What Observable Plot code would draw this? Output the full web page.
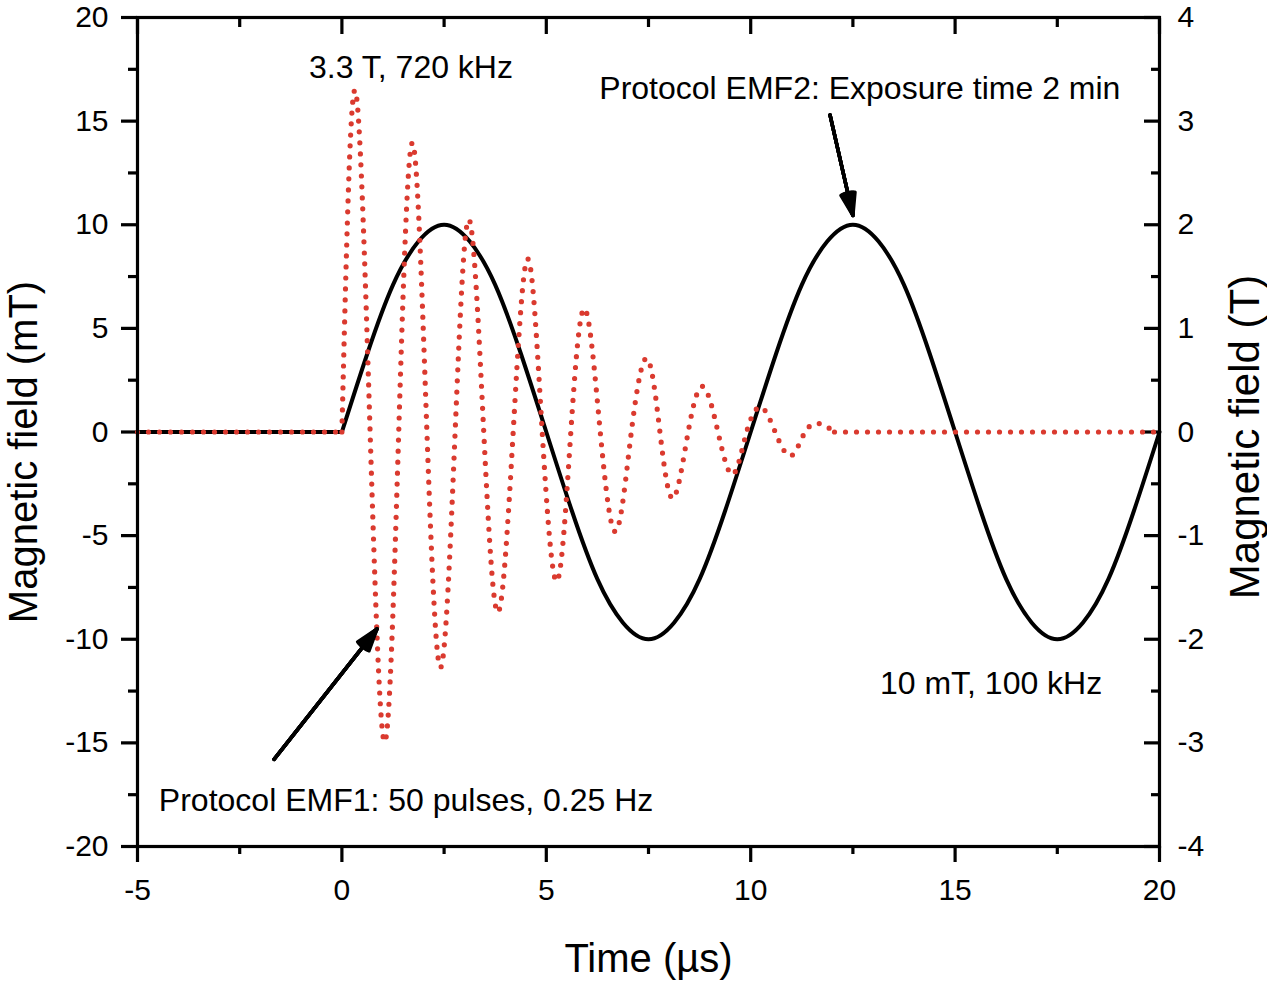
<!DOCTYPE html>
<html>
<head>
<meta charset="utf-8">
<script src="https://cdn.jsdelivr.net/npm/d3@7"></script>
<script src="https://cdn.jsdelivr.net/npm/@observablehq/plot@0.6"></script>
<style>
  html, body { margin: 0; padding: 0; background: #fff; }
</style>
</head>
<body>
<div id="chart"></div>
<script>
// ---- ticks ----
const xTicks = [-5, 0, 5, 10, 15, 20];
const xMinorTicks = [-2.5, 2.5, 7.5, 12.5, 17.5];
const yTicks = [-20, -15, -10, -5, 0, 5, 10, 15, 20];
const yMinorTicks = [-17.5, -12.5, -7.5, -2.5, 2.5, 7.5, 12.5, 17.5];
const rightTickLabels = ["-4", "-3", "-2", "-1", "0", "1", "2", "3", "4"];

// ---- black curve: 10 mT, 100 kHz (left axis, mT) ----
const flatTime = [-5, 0];
const flatField = [0, 0];
const sineTime = [0, 0.625, 1.25, 1.875, 2.5, 3.125, 3.75, 4.375, 5, 5.625, 6.25, 6.875, 7.5, 8.125, 8.75, 9.375, 10,
  10.625, 11.25, 11.875, 12.5, 13.125, 13.75, 14.375, 15, 15.625, 16.25, 16.875, 17.5, 18.125, 18.75, 19.375, 20];
const sineField = [0, 3.8, 7.1, 9.2, 10, 9.2, 7.1, 3.8, 0, -3.8, -7.1, -9.2, -10, -9.2, -7.1, -3.8, 0,
  3.8, 7.1, 9.2, 10, 9.2, 7.1, 3.8, 0, -3.8, -7.1, -9.2, -10, -9.2, -7.1, -3.8, 0];

// ---- red dotted curve: 3.3 T, 720 kHz (right axis, T) ----
const preTime = [-5, 0];
const preTesla = [0, 0];
const pulseTime = [0, 0.32, 0.69, 1.05, 1.39, 1.73, 2.08, 2.42, 2.77, 3.11, 3.47, 3.82, 4.19, 4.55, 4.9, 5.26, 5.6, 5.94,
  6.32, 6.7, 7.08, 7.46, 7.78, 8.1, 8.47, 8.83, 9.2, 9.56, 9.9, 10.25, 10.6, 10.98, 11.33, 11.69, 12.05];
const pulseTesla = [0, 3.3, 0, -2.99, 0, 2.79, 0, -2.27, 0, 2.05, 0, -1.74, 0, 1.67, 0, -1.44, 0, 1.19,
  0, -0.96, 0, 0.71, 0, -0.64, 0, 0.44, 0, -0.41, 0, 0.24, 0, -0.23, 0, 0.08, 0];
const postTime = [12.05, 20];
const postTesla = [0, 0];

// ---- annotations ----
const noteText = ["3.3 T, 720 kHz", "Protocol EMF2: Exposure time 2 min", "10 mT, 100 kHz", "Protocol EMF1: 50 pulses, 0.25 Hz"];
const noteTime = [1.69, 12.67, 15.88, 1.57];
const noteField = [17.59, 16.57, -12.13, -17.78];
const arrowFrom = [[11.94, 15.3], [-1.66, -15.8]];
const arrowTo = [[12.5, 10.45], [0.86, -9.5]];

// ---- build tables ----
const blackRows = [
  ...flatTime.map((t, i) => ({t, v: flatField[i], seg: "a"})),
  ...sineTime.map((t, i) => ({t, v: sineField[i], seg: "b"}))
];
const redRows = [
  ...preTime.map((t, i) => ({t, T: preTesla[i], seg: "a"})),
  ...pulseTime.map((t, i) => ({t, T: pulseTesla[i], seg: "b"})),
  ...postTime.map((t, i) => ({t, T: postTesla[i], seg: "c"}))
];
const notes = noteText.map((text, i) => ({text, t: noteTime[i], v: noteField[i]}));
const arrows = arrowFrom.map((a, i) => ({x1: a[0], y1: a[1], x2: arrowTo[i][0], y2: arrowTo[i][1]}));

const FONT = "'Liberation Sans', Arial, Helvetica, sans-serif";
const fmt = d => String(d);
const red = "#da3a2f";

const headMarks = [36, 28, 20, 12, 4].map(a =>
  Plot.arrow(arrows, {x1: "x1", y1: "y1", x2: "x2", y2: "y2", stroke: "black", strokeWidth: 3.5, headLength: 10, headAngle: a})
);

const chart = Plot.plot({
  width: 1267,
  height: 984,
  marginLeft: 137,
  marginRight: 108,
  marginTop: 17,
  marginBottom: 138,
  x: {domain: [-5, 20]},
  y: {domain: [-20, 20]},
  style: {fontFamily: FONT, color: "black", background: "white"},
  marks: [
    // bottom axis
    Plot.axisX(xTicks, {anchor: "bottom", tickSize: 16, tickPadding: 16, strokeWidth: 3.2, fontSize: 30, tickFormat: fmt, label: null}),
    Plot.axisX(xMinorTicks, {anchor: "bottom", tickSize: 8, strokeWidth: 3.2, text: null, label: null}),
    // top mirror (inward)
    Plot.axisX(xTicks, {anchor: "top", tickSize: -16, strokeWidth: 3.2, text: null, label: null}),
    Plot.axisX(xMinorTicks, {anchor: "top", tickSize: -9, strokeWidth: 3.2, text: null, label: null}),
    // left axis
    Plot.axisY(yTicks, {anchor: "left", tickSize: 16, tickPadding: 13, strokeWidth: 3.2, fontSize: 30, tickFormat: fmt, label: null}),
    Plot.axisY(yMinorTicks, {anchor: "left", tickSize: 9, strokeWidth: 3.2, text: null, label: null}),
    // right axis (inward ticks, labels in tesla)
    Plot.axisY(yTicks, {anchor: "right", tickSize: -16, strokeWidth: 3.2, text: null, label: null}),
    Plot.axisY(yMinorTicks, {anchor: "right", tickSize: -9, strokeWidth: 3.2, text: null, label: null}),
    Plot.axisY(yTicks, {anchor: "right", tickSize: 0, tickPadding: 18, fontSize: 30,
      tickFormat: d => rightTickLabels[yTicks.indexOf(d)], label: null}),
    // curves
    Plot.line(blackRows, {x: "t", y: "v", z: "seg", curve: "natural", stroke: "black", strokeWidth: 4}),
    Plot.line(redRows, {x: "t", y: d => d.T * 5, z: "seg", curve: "natural", stroke: red, strokeWidth: 5.2,
      strokeDasharray: "0 11", strokeLinecap: "round"}),
    // frame
    Plot.frame({stroke: "black", strokeWidth: 3.2}),
    // annotations
    ...headMarks,
    Plot.text(notes, {x: "t", y: "v", text: "text", fontSize: 32, fill: "black"}),
    // axis titles
    Plot.text(["Time (\u00b5s)"], {text: d => d, frameAnchor: "bottom", textAnchor: "middle", lineAnchor: "middle", dy: 113, fontSize: 40, fill: "black"}),
    Plot.text(["Magnetic field (mT)"], {text: d => d, frameAnchor: "left", textAnchor: "middle", lineAnchor: "middle", rotate: -90, dx: -113, dy: 20, fontSize: 40, fill: "black"}),
    Plot.text(["Magnetic field (T)"], {text: d => d, frameAnchor: "right", textAnchor: "middle", lineAnchor: "middle", rotate: -90, dx: 86, dy: 5, fontSize: 42, fill: "black"})
  ]
});
document.getElementById("chart").appendChild(chart);
</script>
</body>
</html>
